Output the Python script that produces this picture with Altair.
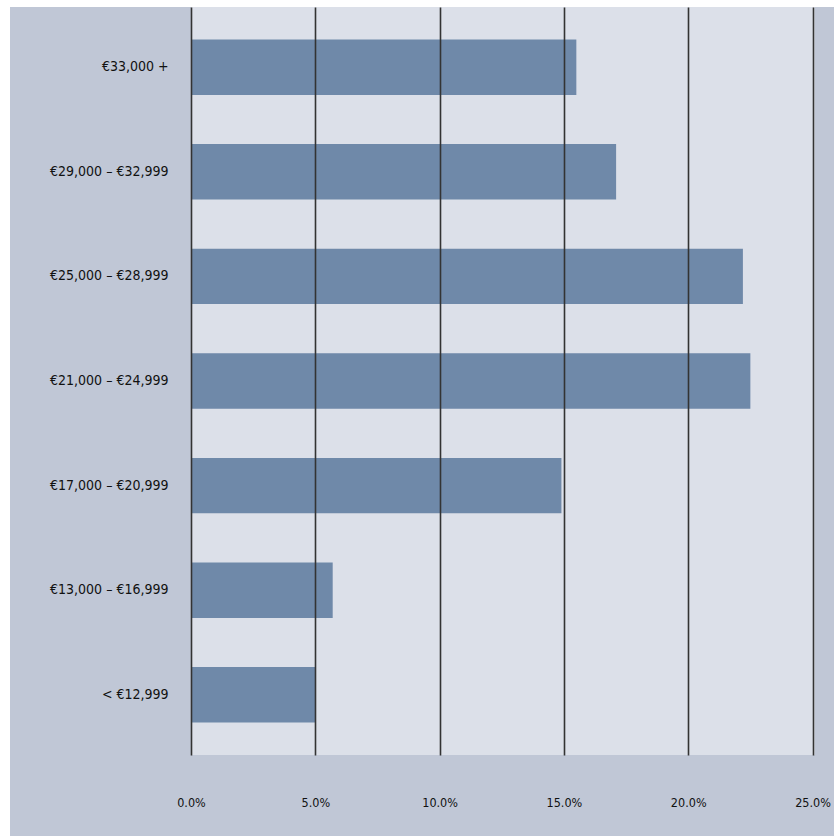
import altair as alt
import pandas as pd

# Income bands, top to bottom, and share of respondents (%)
bands = [
    "€33,000 +",
    "€29,000 – €32,999",
    "€25,000 – €28,999",
    "€21,000 – €24,999",
    "€17,000 – €20,999",
    "€13,000 – €16,999",
    "< €12,999",
]
shares = [15.5, 17.1, 22.2, 22.5, 14.9, 5.7, 5.0]
tick_values = [0, 5, 10, 15, 20, 25]

df = pd.DataFrame({"band": bands, "share": shares})

FONT = "Liberation Sans Narrow, DejaVu Sans Condensed, sans-serif"
PANEL = "#c0c7d6"
PLOT_BG = "#dce0e9"
BAR = "#6f89a9"

W, H = 624, 748
PAD_L, PAD_T, PAD_R, PAD_B = 191, 7, 19, 81

bars = alt.Chart(df).mark_bar(color=BAR).encode(
    x=alt.X(
        "share:Q",
        scale=alt.Scale(domain=[0, 25.1], nice=False, zero=True),
        axis=alt.Axis(
            values=tick_values,
            labelExpr="format(datum.value, '.1f') + '%'",
            title=None,
            grid=True,
            gridColor="#333333",
            gridWidth=1.6,
            gridOpacity=1,
            ticks=False,
            domain=False,
            labelFlush=False,
            labelPadding=41,
            labelFont=FONT,
            labelFontSize=12.5,
            labelColor="#111111",
            zindex=1,
        ),
    ),
    y=alt.Y(
        "band:N",
        sort=bands,
        scale=alt.Scale(paddingInner=0.47, paddingOuter=0.31),
        axis=alt.Axis(
            title=None,
            ticks=False,
            domain=False,
            grid=False,
            labelPadding=23,
            labelFont=FONT,
            labelFontSize=14,
            labelColor="#111111",
            zindex=1,
        ),
    ),
)

# Thin white frame strips along the left and top edges of the page
frame = pd.DataFrame({"k": ["left", "top"]})
left_strip = alt.Chart(frame.iloc[[0]]).mark_rect(color="white", clip=False).encode(
    x=alt.value(-PAD_L), x2=alt.value(-PAD_L + 10),
    y=alt.value(-PAD_T), y2=alt.value(H + PAD_B),
)
top_strip = alt.Chart(frame.iloc[[1]]).mark_rect(color="white", clip=False).encode(
    x=alt.value(-PAD_L), x2=alt.value(W + PAD_R),
    y=alt.value(-PAD_T), y2=alt.value(0),
)

chart = (
    alt.layer(left_strip, top_strip, bars)
    .properties(
        width=W,
        height=H,
        background=PANEL,
        padding={"left": PAD_L, "top": PAD_T, "right": PAD_R, "bottom": PAD_B},
        autosize=alt.AutoSizeParams(type="none"),
    )
    .configure_view(fill=PLOT_BG, stroke=None)
)

chart.save("out.html", embed_options={"renderer": "svg", "actions": False})
